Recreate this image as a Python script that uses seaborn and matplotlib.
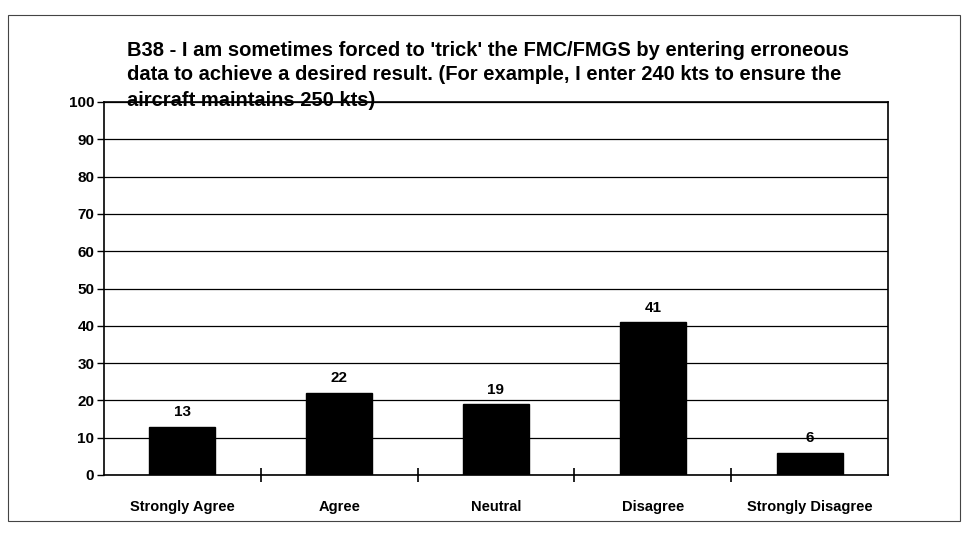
import numpy as np
import pandas as pd
import matplotlib
matplotlib.use("Agg")
import matplotlib.pyplot as plt
import seaborn as sns
from matplotlib.patches import Rectangle

# data
categories = ["Strongly Agree", "Agree", "Neutral", "Disagree", "Strongly Disagree"]
percents = [13, 22, 19, 41, 6]
y_ticks = [0, 10, 20, 30, 40, 50, 60, 70, 80, 90, 100]
title_lines = [
    "B38 - I am sometimes forced to 'trick' the FMC/FMGS by entering erroneous",
    "data to achieve a desired result. (For example, I enter 240 kts to ensure the",
    "aircraft maintains 250 kts)",
]

sns.set_style("white")
plt.rcParams['font.family'] = ['Liberation Sans', 'DejaVu Sans']
plt.rcParams['font.weight'] = 'bold'
plt.rcParams['text.color'] = 'black'
plt.rcParams['xtick.color'] = 'black'
plt.rcParams['ytick.color'] = 'black'

df = pd.DataFrame({"category": categories, "percent": percents})

fig = plt.figure(figsize=(9.65, 5.36), dpi=100)
ax = fig.add_axes([104 / 965, 1 - 475 / 536, 784 / 965, 373 / 536])

sns.barplot(data=df, x="category", y="percent", color="black",
            width=0.42, saturation=1, edgecolor="black", ax=ax, zorder=3)

ax.set_ylim(0, 100)
ax.set_xlim(-0.5, len(categories) - 0.5)
ax.set_yticks(y_ticks)
ax.yaxis.grid(True, color="black", linewidth=0.9, zorder=0)
ax.set_axisbelow(True)

# value labels on top of bars
for i, v in enumerate(percents):
    ax.text(i, v + 2, str(v), ha="center", va="bottom",
            fontsize=11, fontweight="bold", zorder=4)

# x ticks sit between categories, labels centered under bars
ax.set_xticks(np.arange(len(categories)))
ax.set_xticklabels(categories, fontsize=10.5, fontweight="bold")
ax.tick_params(axis="x", length=0, pad=18)
ax.set_xticks(np.arange(len(categories) - 1) + 0.5, minor=True)
ax.tick_params(axis="x", which="minor", bottom=True, direction="inout",
               length=10, width=1.2)
ax.tick_params(axis="y", left=True, direction="out", length=5, width=1,
               labelsize=11, pad=2)
for lab in ax.get_yticklabels():
    lab.set_fontweight("bold")

for side in ["left", "right", "top", "bottom"]:
    ax.spines[side].set_visible(True)
    ax.spines[side].set_color("black")
    ax.spines[side].set_linewidth(1.2)
ax.set_xlabel("")
ax.set_ylabel("")

for k, line in enumerate(title_lines):
    fig.text(127 / 965, 1 - (50 + 25 * k) / 536, line, ha="left", va="center",
             fontsize=14.5, fontweight="bold")

# outer frame of the scanned page
fig.patches.append(Rectangle((8 / 965, 1 - 521 / 536), 952 / 965, 506 / 536,
                             transform=fig.transFigure, fill=False,
                             edgecolor="#444444", linewidth=0.8))

fig.savefig("out.png", dpi=100, facecolor="white")
